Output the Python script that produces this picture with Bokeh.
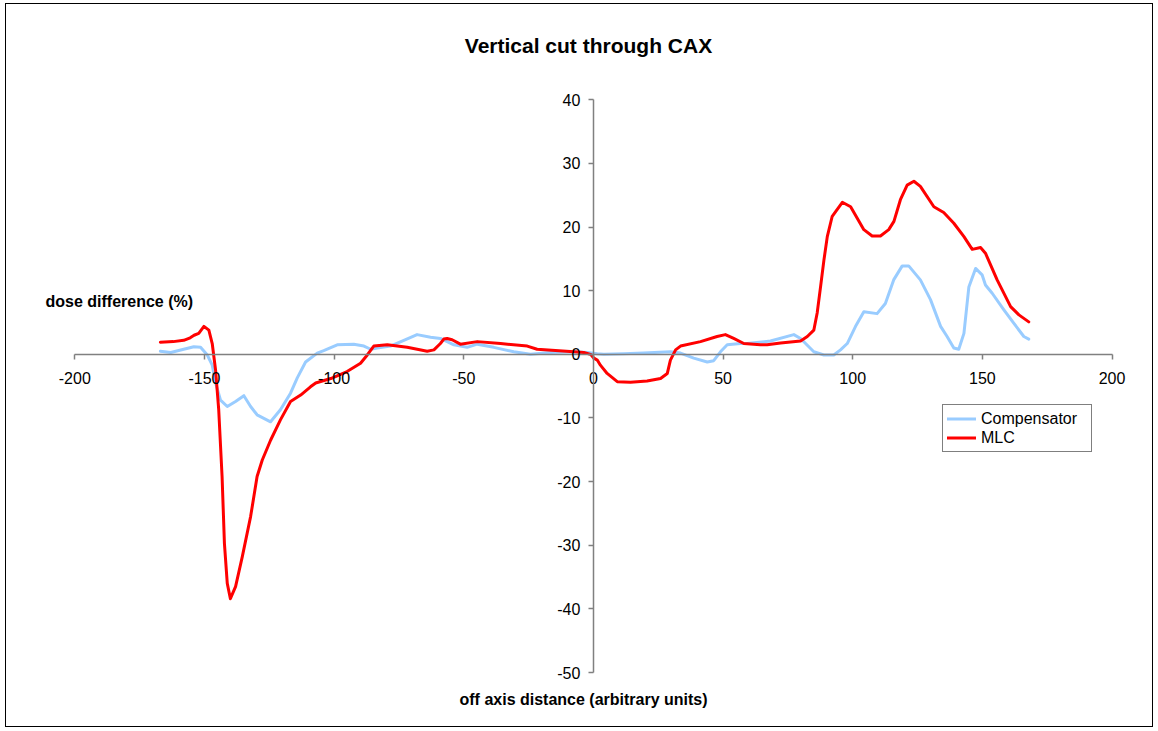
from bokeh.plotting import figure
from bokeh.models import (Range1d, LinearAxis, SingleIntervalTicker, Label,
                          Legend, LegendItem, PrintfTickFormatter)
from bokeh.embed import file_html
from bokeh.resources import INLINE

# ---- data ----
title_text = "Vertical cut through CAX"
y_title = "dose difference (%)"
x_title = "off axis distance (arbitrary units)"

comp_x = [-167, -163, -158, -154.1, -151.5, -148.9, -147, -145.7, -143.8, -141.2,
          -138, -134.8, -132.2, -129.7, -124.5, -120.7, -116.8, -114.2, -111, -106.5,
          -104, -98.8, -92.4, -88.5, -85.9, -83.4, -78.3, -73.1, -68, -62.8,
          -59, -56.4, -53.8, -48.7, -44.8, -38.4, -30.7, -24.3, -16.5, -7.6,
          -2.4, 1.5, 4, 11.7, 19.4, 29.7, 33.6, 38.7, 43.9, 46.4,
          49, 51.6, 56.7, 59.3, 68.3, 77.3, 79.9, 85, 88.9, 92.7,
          95.3, 97.9, 101.1, 104.3, 109.4, 112.6, 115.8, 119.1, 121.6, 126.1,
          130, 133.9, 136.4, 139, 140.9, 142.9, 144.8, 147.4, 149.9, 151.2,
          153.8, 158.3, 162.1, 166, 167.9]
comp_y = [0.5, 0.3, 0.8, 1.2, 1.1, -0.1, -1.7, -4.5, -7.2, -8.2,
          -7.4, -6.5, -8.2, -9.5, -10.6, -8.7, -6.1, -3.7, -1.2, 0.2,
          0.6, 1.5, 1.6, 1.3, 0.8, 1.0, 1.3, 2.2, 3.1, 2.7,
          2.5, 2.0, 1.5, 1.1, 1.6, 1.1, 0.4, 0.0, 0.3, 0.4,
          0.3, 0.1, 0.0, 0.1, 0.2, 0.4, 0.2, -0.6, -1.2, -1.0,
          0.4, 1.5, 1.7, 1.7, 2.1, 3.1, 2.5, 0.4, -0.1, -0.1,
          0.7, 1.7, 4.4, 6.7, 6.4, 8.0, 11.7, 13.9, 13.9, 11.7,
          8.6, 4.4, 2.8, 1.0, 0.8, 3.3, 10.6, 13.5, 12.5, 10.9,
          9.6, 7.0, 4.9, 2.8, 2.4]

mlc_x = [-167, -162, -158, -155.5, -154, -152.2, -150.2, -148.3, -147, -145.7,
         -144.5, -143.2, -142.3, -141.2, -140, -138, -135.4, -132.2, -129.7, -127.7,
         -124.5, -120.7, -116.8, -112.9, -109.1, -107.1, -101.3, -95, -89.8, -87.2,
         -84.7, -79.5, -71.8, -64.1, -61.5, -59, -57.7, -56.4, -54.5, -51.3,
         -44.8, -35.8, -25.5, -21.7, -7.6, -3.7, -1.1, 0.2, 1.5, 2.7,
         5.3, 9.2, 14.3, 20.7, 25.9, 28.5, 29.7, 31.7, 33.6, 41.3,
         47.7, 50.9, 54.1, 58, 64.4, 67, 72.2, 79.9, 82.5, 85,
         86.3, 87.6, 88.9, 90.2, 92.1, 96, 99.2, 104.3, 107.5, 110.7,
         113.9, 115.9, 118.4, 121, 123.6, 126.1, 131.3, 135.1, 139, 142.9,
         146.1, 149.3, 151.2, 155.7, 160.9, 164.1, 167.9]
mlc_y = [1.9, 2.0, 2.2, 2.6, 3.0, 3.3, 4.4, 3.8, 1.7, -2.5,
         -8.7, -19.2, -29.7, -36.0, -38.4, -36.5, -31.8, -25.5, -19.2, -16.6,
         -13.5, -10.3, -7.4, -6.4, -5.1, -4.5, -3.8, -2.7, -1.4, -0.1,
         1.3, 1.5, 1.1, 0.5, 0.7, 1.7, 2.4, 2.5, 2.3, 1.6,
         2.0, 1.7, 1.3, 0.8, 0.4, 0.3, 0.0, -0.6, -0.9, -1.7,
         -3.0, -4.3, -4.4, -4.2, -3.8, -3.0, -0.9, 0.7, 1.3, 2.0,
         2.8, 3.1, 2.5, 1.7, 1.5, 1.5, 1.8, 2.1, 2.8, 3.8,
         6.5, 10.6, 14.8, 18.5, 21.7, 23.9, 23.2, 19.6, 18.6, 18.6,
         19.6, 20.9, 24.3, 26.6, 27.2, 26.4, 23.2, 22.3, 20.6, 18.5,
         16.5, 16.8, 15.9, 11.7, 7.5, 6.2, 5.1]

x_limits = (-200, 200)
y_limits = (-50, 40)

FONT = "Liberation Sans"

# frame covers the whole canvas; view ranges padded so the axes sit where
# they do in the original chart area
p = figure(width=1148, height=724, output_backend="svg", toolbar_location=None,
           x_range=Range1d(-226.34, 216.39), y_range=Range1d(-58.80, 54.98),
           x_axis_type=None, y_axis_type=None,
           min_border=0, outline_line_color=None,
           background_fill_color="white", border_fill_color="white")
p.margin = (3, 0, 0, 5)
p.styles = {"border": "1px solid black"}
p.xgrid.visible = False
p.ygrid.visible = False

def style_axis(ax):
    ax.axis_line_color = "#808080"
    ax.axis_line_width = 1.5
    ax.major_tick_line_color = "#808080"
    ax.major_tick_line_width = 1.5
    ax.major_tick_in = 0
    ax.major_tick_out = 5
    ax.minor_tick_line_color = None
    ax.major_label_text_font = FONT
    ax.major_label_text_font_size = "16px"
    ax.major_label_text_color = "black"
    ax.formatter = PrintfTickFormatter(format="%d")

xax = LinearAxis(ticker=SingleIntervalTicker(interval=50), fixed_location=0,
                 bounds=x_limits)
style_axis(xax)
xax.major_label_standoff = 13
p.add_layout(xax, "below")

yax = LinearAxis(ticker=SingleIntervalTicker(interval=10), fixed_location=0,
                 bounds=y_limits)
style_axis(yax)
yax.major_label_standoff = 8
p.add_layout(yax, "left")

r_comp = p.line(comp_x, comp_y, line_color="#99CCFF", line_width=3,
                line_join="round", line_cap="round")
r_mlc = p.line(mlc_x, mlc_y, line_color="#FF0000", line_width=3,
               line_join="round", line_cap="round")

p.add_layout(Label(x=-1.9, y=48.5, text=title_text, text_font=FONT,
                   text_font_size="21px", text_font_style="bold",
                   text_color="black",
                   text_align="center", text_baseline="middle"))
p.add_layout(Label(x=-211.3, y=8.3, text=y_title, text_font=FONT,
                   text_font_size="16px", text_font_style="bold",
                   text_color="black",
                   text_align="left", text_baseline="middle"))
p.add_layout(Label(x=-3.8, y=-54.3, text=x_title, text_font=FONT,
                   text_font_size="16px", text_font_style="bold",
                   text_color="black",
                   text_align="center", text_baseline="middle"))

legend = Legend(items=[LegendItem(label="Compensator", renderers=[r_comp]),
                       LegendItem(label="MLC", renderers=[r_mlc])],
                location=(936, 276), padding=4, spacing=0, margin=0,
                label_height=19, glyph_height=19, glyph_width=29,
                label_standoff=5, label_width=106,
                label_text_font=FONT, label_text_font_size="16px",
                label_text_color="black",
                border_line_color="black", border_line_width=1,
                background_fill_color="white", background_fill_alpha=1)
p.add_layout(legend, "center")

open("out.html", "w").write(file_html(p, INLINE))
